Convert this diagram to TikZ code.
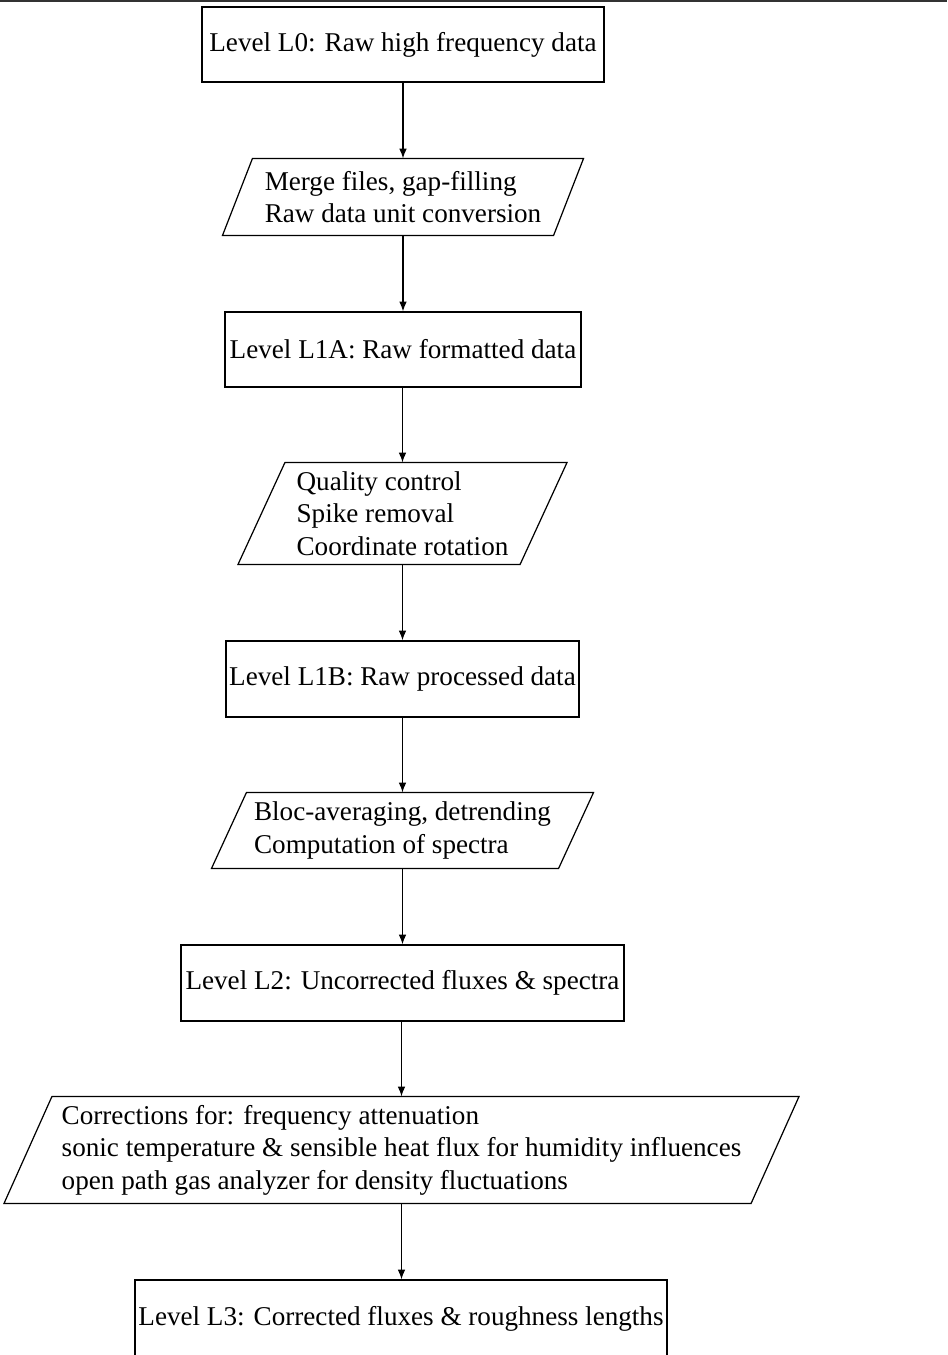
\documentclass[tikz,border=0pt]{standalone}
\usepackage{fontspec}
\setmainfont{Liberation Serif}
\usetikzlibrary{arrows.meta,calc}
\def\u{0.3686pt}
\tikzset{
  lvl/.style={draw, line width=0.45pt, inner sep=0pt, align=center},
  proc/.style={inner sep=0pt, align=left},
  pshape/.style={draw, line width=0.45pt, line join=miter},
  flow/.style={line width=0.45pt, -{Latex[length=3.6pt,width=2.8pt]}},
}
\begin{document}
\begin{tikzpicture}[x=\u, y=-\u]
\useasboundingbox (0,0) rectangle (947,1355);
% top rule
\draw[line width=0.7pt, black!80] (0,0.9) coordinate (tl) -- (947,0.9) coordinate (tr);

% level boxes
\node[lvl, minimum width=402*\u, minimum height=75*\u] (L0) at (403,44.5) {Level L0: Raw high frequency data};
\node[lvl, minimum width=356*\u, minimum height=75*\u] (L1A) at (403,349.5) {Level L1A: Raw formatted data};
\node[lvl, minimum width=353*\u, minimum height=76*\u] (L1B) at (402.5,679) {Level L1B: Raw processed data};
\node[lvl, minimum width=443*\u, minimum height=76*\u] (L2) at (402.5,983) {Level L2: Uncorrected fluxes \& spectra};
\node[lvl, minimum width=532*\u, minimum height=77*\u] (L3) at (401,1318.5) {Level L3: Corrected fluxes \& roughness lengths};

% process parallelograms
\node[proc, minimum width=330*\u, minimum height=76*\u] (P1) at (403,197) {Merge files, gap-filling\\Raw data unit conversion};
\draw[pshape] ([xshift=15*\u]P1.north west) -- ([xshift=15*\u]P1.north east) -- ([xshift=-15*\u]P1.south east) -- ([xshift=-15*\u]P1.south west) -- cycle;

\node[proc, minimum width=281*\u, minimum height=101*\u] (P2) at (402.5,513.5) {Quality control\\Spike removal\\Coordinate rotation};
\draw[pshape] ([xshift=23.5*\u]P2.north west) -- ([xshift=23.5*\u]P2.north east) -- ([xshift=-23.5*\u]P2.south east) -- ([xshift=-23.5*\u]P2.south west) -- cycle;

\node[proc, minimum width=346*\u, minimum height=75*\u] (P3) at (402.5,830.5) {Bloc-averaging, detrending\\Computation of spectra};
\draw[pshape] ([xshift=17.5*\u]P3.north west) -- ([xshift=17.5*\u]P3.north east) -- ([xshift=-17.5*\u]P3.south east) -- ([xshift=-17.5*\u]P3.south west) -- cycle;

\node[proc, minimum width=746*\u, minimum height=106*\u] (P4) at (401.5,1150) {Corrections for: frequency attenuation\\sonic temperature \& sensible heat flux for humidity influences\\open path gas analyzer for density fluctuations};
\draw[pshape] ([xshift=24*\u]P4.north west) -- ([xshift=24*\u]P4.north east) -- ([xshift=-24*\u]P4.south east) -- ([xshift=-24*\u]P4.south west) -- cycle;

% connectors
\draw[flow] (L0.south -| P1.north) -- (P1.north);
\draw[flow] (P1.south) -- (L1A.north -| P1.south);
\draw[flow] (L1A.south -| P2.north) -- (P2.north);
\draw[flow] (P2.south) -- (L1B.north -| P2.south);
\draw[flow] (L1B.south -| P3.north) -- (P3.north);
\draw[flow] (P3.south) -- (L2.north -| P3.south);
\draw[flow] (L2.south -| P4.north) -- (P4.north);
\draw[flow] (P4.south) -- (L3.north -| P4.south);
\end{tikzpicture}
\end{document}
